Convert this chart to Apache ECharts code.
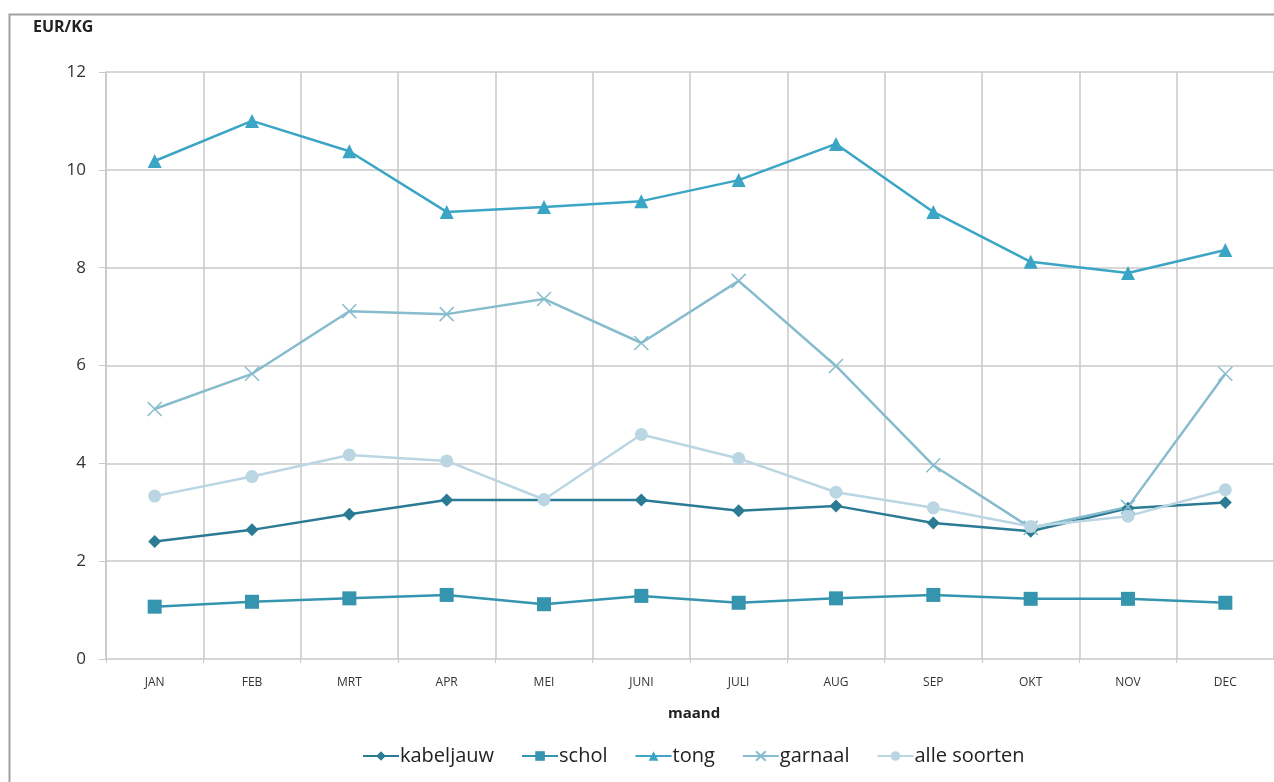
<!DOCTYPE html>
<html><head><meta charset="utf-8">
<script src="https://cdn.jsdelivr.net/npm/echarts@6/dist/echarts.min.js"></script>
<style>html,body{margin:0;padding:0;background:#fff}#c{width:1274px;height:782px}</style>
</head><body><div id="c"></div>
<script>
const categories = ['JAN','FEB','MRT','APR','MEI','JUNI','JULI','AUG','SEP','OKT','NOV','DEC'];
const kabeljauw = [2.40, 2.64, 2.96, 3.25, 3.25, 3.25, 3.03, 3.13, 2.78, 2.61, 3.08, 3.20];
const schol = [1.07, 1.17, 1.24, 1.31, 1.12, 1.29, 1.15, 1.24, 1.31, 1.23, 1.23, 1.15];
const tong = [10.18, 11.00, 10.38, 9.14, 9.24, 9.36, 9.79, 10.53, 9.14, 8.12, 7.89, 8.36];
const garnaal = [5.11, 5.83, 7.11, 7.05, 7.36, 6.46, 7.73, 5.99, 3.96, 2.68, 3.11, 5.83];
const alleSoorten = [3.33, 3.73, 4.17, 4.05, 3.26, 4.59, 4.10, 3.41, 3.09, 2.71, 2.92, 3.46];
const yTicks = [0, 2, 4, 6, 8, 10, 12];

const font = 'Open Sans';
const chart = echarts.init(document.getElementById('c'));
function s(name, data, color, symbol, size, extra) {
  return Object.assign({
    name, type: 'line', data, symbol, symbolSize: size,
    lineStyle: { color, width: 2.5 }, itemStyle: { color },
    z: 3, animation: false
  }, extra || {});
}
chart.setOption({
  animation: false,
  textStyle: { fontFamily: font },
  graphic: [
    { type: 'rect', shape: { x: 9.5, y: 14.5, width: 1300, height: 800 }, style: { fill: 'none', stroke: '#a0a0a0', lineWidth: 2 }, z: -1 },
    { type: 'text', left: 33, top: 19, style: { text: 'EUR/KG', font: 'bold 16px "Open Sans"', fill: '#222' } },
    { type: 'text', left: 668, top: 706, style: { text: 'maand', font: 'bold 15px "Open Sans"', fill: '#222' } }
  ],
  legend: {
    top: 741, left: 357, itemGap: 27, itemWidth: 36, itemHeight: 12,
    textStyle: { fontSize: 20, color: '#222', fontFamily: font, padding: [0, 0, 0, -4] },
    data: ['kabeljauw', 'schol', 'tong', 'garnaal', 'alle soorten']
  },
  grid: { left: 106, right: -3, top: 72, bottom: 123 },
  xAxis: {
    type: 'category', data: categories, boundaryGap: true,
    axisLine: { show: false },
    axisTick: { show: true, length: 4, lineStyle: { color: '#c8c8c8' } },
    splitLine: { show: true, lineStyle: { color: '#c8c8c8', width: 1.5 } },
    axisLabel: { fontSize: 12, color: '#333', margin: 18, fontFamily: font }
  },
  yAxis: {
    type: 'value', min: 0, max: 12, interval: 2,
    axisLine: { show: true, lineStyle: { color: '#c8c8c8', width: 1.5 } },
    axisTick: { show: true, length: 7, lineStyle: { color: '#c8c8c8' } },
    splitLine: { show: true, lineStyle: { color: '#c8c8c8', width: 1.5 } },
    axisLabel: { fontSize: 17, color: '#333', margin: 20, fontFamily: font,
      formatter: v => yTicks.includes(v) ? String(v) : '' }
  },
  series: [
    s('kabeljauw', kabeljauw, '#2b7b94', 'diamond', 13),
    s('schol', schol, '#3594ae', 'rect', 14),
    s('tong', tong, '#3aa5c4', 'triangle', 14),
    s('garnaal', garnaal, '#86bccd', 'path://M0,0L10,10M10,0L0,10', 14,
      { itemStyle: { color: 'none', borderColor: '#86bccd', borderWidth: 1.5 } }),
    s('alle soorten', alleSoorten, '#bad6e2', 'circle', 13)
  ]
});
</script></body></html>
